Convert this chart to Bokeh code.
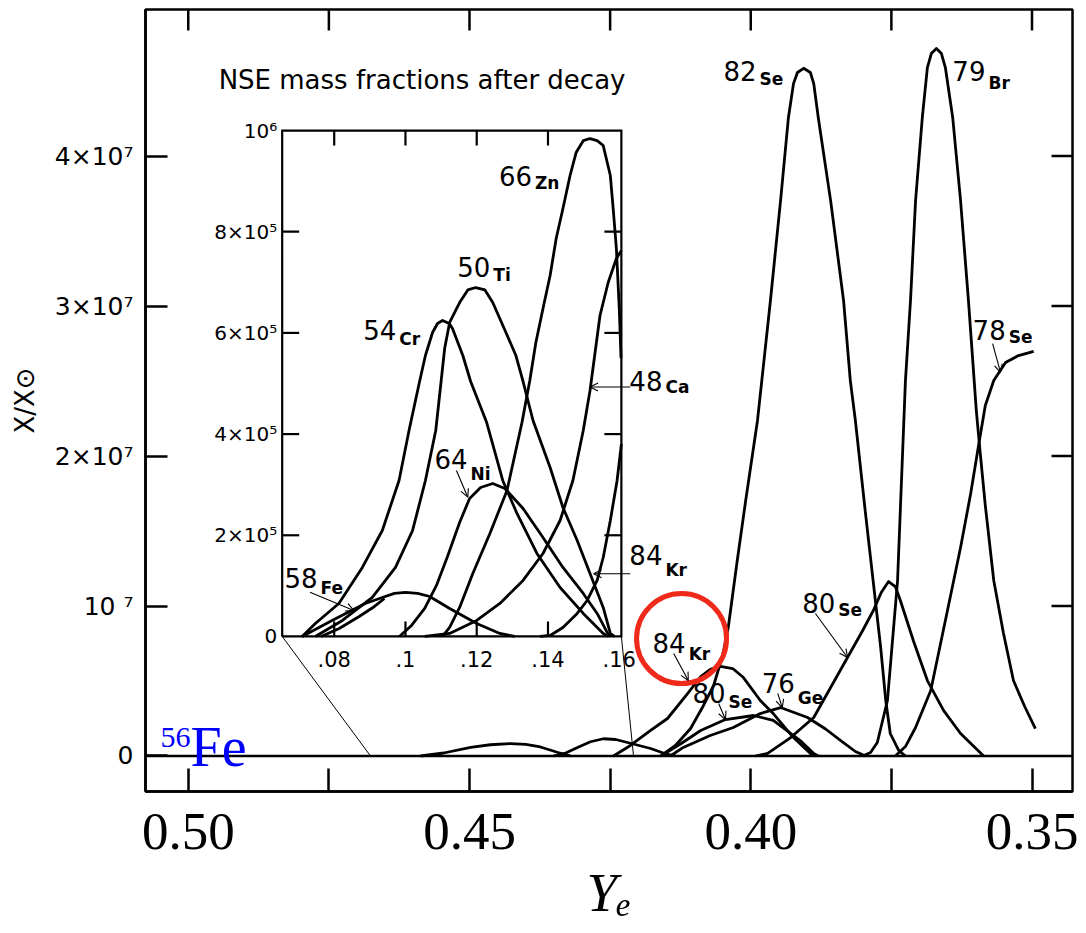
from bokeh.plotting import figure
from bokeh.models import (Range1d, FixedTicker, Span, Arrow, OpenHead,
                          Label, NumeralTickFormatter)
from bokeh.core.properties import value
from bokeh.embed import file_html
from bokeh.resources import INLINE

SANS = "DejaVu Sans"
SERIF = "Liberation Serif"

# ---------------- main panel data: Ye, X/Xsun in units of 1e7 ----------------
bump_a_ye = [0.4587, 0.4546, 0.4498, 0.4463, 0.4427, 0.4400, 0.4374, 0.4344, 0.4320]
bump_a_x = [0.0, 0.020, 0.057, 0.075, 0.083, 0.078, 0.060, 0.025, 0.0]
bump_b_ye = [0.4351, 0.4329, 0.4308, 0.4285, 0.4262, 0.4240, 0.4214, 0.4178, 0.4148, 0.4134]
bump_b_x = [0.0, 0.020, 0.057, 0.095, 0.115, 0.110, 0.085, 0.050, 0.010, 0.0]
kr84_ye = [0.4244, 0.4214, 0.4178, 0.4148, 0.4112, 0.4089, 0.4072, 0.4054, 0.4032, 0.4013,
           0.3983, 0.3960, 0.3924, 0.3894, 0.3885]
kr84_x = [0.0, 0.07, 0.17, 0.25, 0.417, 0.53, 0.577, 0.597, 0.583, 0.523, 0.37, 0.283, 0.123,
          0.017, 0.0]
se80a_ye = [0.4160, 0.4125, 0.4089, 0.4045, 0.3995, 0.3960, 0.3912, 0.3888, 0.3880]
se80a_x = [0.0, 0.08, 0.17, 0.243, 0.27, 0.237, 0.103, 0.017, 0.0]
ge76_ye = [0.4143, 0.4120, 0.4072, 0.4031, 0.3983, 0.3947, 0.3899, 0.3867, 0.3840, 0.3814, 0.3796]
ge76_x = [0.0, 0.057, 0.137, 0.19, 0.283, 0.323, 0.257, 0.18, 0.103, 0.03, 0.0]
se82_ye = [0.4160, 0.4134, 0.4107, 0.4084, 0.4066, 0.4050, 0.4040, 0.4024, 0.4009, 0.3988,
           0.3965, 0.3947, 0.3933, 0.3924, 0.3917, 0.3906, 0.3894, 0.3888, 0.3880, 0.3858,
           0.3835, 0.3823, 0.3814, 0.3796, 0.3769, 0.3760, 0.3752, 0.3737, 0.3725]
se82_x = [0.0, 0.07, 0.183, 0.337, 0.47, 0.67, 0.857, 1.303, 1.703, 2.237, 3.037, 3.703, 4.257,
          4.483, 4.557, 4.585, 4.557, 4.483, 4.257, 3.703, 3.037, 2.503, 2.237, 1.617, 0.723,
          0.37, 0.15, 0.037, 0.0]
se80b_ye = [0.3992, 0.3970, 0.3929, 0.3888, 0.3858, 0.3828, 0.3801, 0.3782, 0.3768, 0.3755,
            0.3743, 0.3734, 0.3711, 0.3686, 0.3657, 0.3627, 0.3586]
se80b_x = [0.0, 0.017, 0.123, 0.257, 0.457, 0.657, 0.837, 0.97, 1.09, 1.163, 1.13, 1.037, 0.77,
           0.503, 0.303, 0.15, 0.0]
br79_ye = [0.3801, 0.3787, 0.3775, 0.3757, 0.3739, 0.3725, 0.3716, 0.3707, 0.3695, 0.3686,
           0.3679, 0.3670, 0.3661, 0.3654, 0.3641, 0.3627, 0.3613, 0.3599, 0.3592, 0.3583,
           0.3568, 0.3551, 0.3533, 0.3513, 0.3494]
br79_x = [0.0, 0.023, 0.09, 0.37, 1.17, 2.503, 3.037, 3.703, 4.257, 4.59, 4.683, 4.717, 4.683,
          4.59, 4.257, 3.703, 3.037, 2.303, 2.017, 1.67, 1.17, 0.823, 0.503, 0.33, 0.183]
se78_ye = [0.3743, 0.3725, 0.3707, 0.3680, 0.3654, 0.3627, 0.3609, 0.3595, 0.3583, 0.3568,
           0.3547, 0.3524, 0.3497]
se78_x = [0.0, 0.063, 0.19, 0.437, 0.903, 1.39, 1.75, 2.07, 2.337, 2.503, 2.623, 2.67, 2.697]

main_curves = [(bump_a_ye, bump_a_x), (bump_b_ye, bump_b_x), (kr84_ye, kr84_x),
               (se80a_ye, se80a_x), (ge76_ye, ge76_x), (se82_ye, se82_x),
               (se80b_ye, se80b_x), (br79_ye, br79_x), (se78_ye, se78_x)]

# ---------------- inset data: eta = 1 - 2Ye, X/Xsun in units of 1e5 ----------------
cr54_eta = [0.0710, 0.0747, 0.0813, 0.0879, 0.0935, 0.0982, 0.1010, 0.1039, 0.1056, 0.1076,
            0.1090, 0.1104, 0.1123, 0.1132, 0.1161, 0.1183, 0.1228, 0.1273, 0.1313, 0.1369,
            0.1434, 0.1499, 0.1555, 0.1569]
cr54_v = [0.0, 0.257, 0.652, 1.364, 2.095, 3.083, 4.071, 5.02, 5.553, 6.008, 6.186, 6.245,
          6.186, 6.087, 5.553, 5.04, 4.229, 3.083, 2.431, 1.64, 0.968, 0.455, 0.059, 0.0]
ti50_eta = [0.0747, 0.0823, 0.0907, 0.0972, 0.1020, 0.1056, 0.1085, 0.1100, 0.1110, 0.1124,
            0.1152, 0.1175, 0.1197, 0.1223, 0.1245, 0.1282, 0.1310, 0.1330, 0.1358, 0.1406,
            0.1442, 0.1482, 0.1518, 0.1555, 0.1575, 0.1586]
ti50_v = [0.0, 0.316, 0.771, 1.364, 2.095, 3.083, 4.071, 5.04, 5.692, 6.206, 6.601, 6.85,
          6.897, 6.85, 6.601, 6.008, 5.553, 5.04, 4.269, 3.34, 2.549, 1.897, 1.245, 0.573,
          0.059, 0.0]
zn66_eta = [0.1104, 0.1124, 0.1152, 0.1189, 0.1237, 0.1285, 0.1327, 0.1349, 0.1366, 0.1386,
            0.1406, 0.1423, 0.1442, 0.1462, 0.1479, 0.1499, 0.1518, 0.1538, 0.1555, 0.1575,
            0.1583, 0.1592, 0.1600, 0.1605]
zn66_v = [0.0, 0.178, 0.573, 1.245, 2.036, 2.885, 4.229, 5.059, 5.81, 6.482, 7.134, 7.866,
          8.458, 9.111, 9.565, 9.8, 9.842, 9.8, 9.704, 9.111, 8.458, 7.668, 6.5, 5.5]
ca48_eta = [0.1054, 0.1124, 0.1200, 0.1265, 0.1330, 0.1386, 0.1434, 0.1470, 0.1499, 0.1518,
            0.1546, 0.1569, 0.1592, 0.1606]
ca48_v = [0.0, 0.059, 0.316, 0.652, 1.107, 1.64, 2.292, 3.083, 4.071, 4.862, 6.344, 6.996,
          7.47, 7.628]
kr84i_eta = [0.1378, 0.1406, 0.1442, 0.1482, 0.1510, 0.1538, 0.1555, 0.1575, 0.1594, 0.1606]
kr84i_v = [0.0, 0.02, 0.178, 0.455, 0.711, 1.107, 1.561, 2.292, 3.083, 3.8]
ni64_eta = [0.0983, 0.1017, 0.1054, 0.1087, 0.1118, 0.1152, 0.1180, 0.1211, 0.1245, 0.1279,
            0.1330, 0.1386, 0.1442, 0.1499, 0.1538, 0.1566, 0.1577]
ni64_v = [0.0, 0.217, 0.553, 1.008, 1.581, 2.253, 2.727, 2.945, 3.024, 2.925, 2.53, 1.957,
          1.364, 0.85, 0.455, 0.079, 0.0]
fe58_eta = [0.0710, 0.0794, 0.0887, 0.0935, 0.0969, 0.1000, 0.1034, 0.1068, 0.1124, 0.1200,
            0.1265, 0.1307]
fe58_v = [0.0, 0.316, 0.652, 0.771, 0.85, 0.87, 0.85, 0.79, 0.553, 0.257, 0.059, 0.0]
loop_eta = [0.0763, 0.0814, 0.0870, 0.0913, 0.0941]
loop_v = [0.0, 0.158, 0.395, 0.593, 0.75]

inset_curves = [(cr54_eta, cr54_v), (ti50_eta, ti50_v), (zn66_eta, zn66_v), (ca48_eta, ca48_v),
                (kr84i_eta, kr84i_v), (ni64_eta, ni64_v), (fe58_eta, fe58_v), (loop_eta, loop_v)]

# ---------------- ticks and labels ----------------
ye_ticks = [0.50, 0.45, 0.40, 0.35]
ye_minor = [0.475, 0.425, 0.375]
x_ticks = [0, 1, 2, 3, 4]
x_tick_text = {0: "0", 1: "10 \u2077", 2: "2\u00d710\u2077", 3: "3\u00d710\u2077", 4: "4\u00d710\u2077"}
eta_ticks = [0.08, 0.10, 0.12, 0.14, 0.16]
eta_tick_text = [".08", ".1", ".12", ".14", ".16"]
v_ticks = [0, 2, 4, 6, 8, 10]
v_tick_text = ["0", "2\u00d710\u2075", "4\u00d710\u2075", "6\u00d710\u2075", "8\u00d710\u2075", "10\u2076"]

main_lab_num = ["82", "79", "78", "80", "76", "84", "80"]
main_lab_sym = ["Se", "Br", "Se", "Se", "Ge", "Kr", "Se"]
main_lab_ye = [0.3988, 0.3581, 0.3545, 0.3848, 0.3920, 0.4114, 0.4043]
main_lab_y = [4.57, 4.57, 2.837, 1.02, 0.49, 0.753, 0.423]
main_lab_drop = [8, 12, 7, 7, 15, 11, 9]

ins_lab_num = ["66", "50", "54", "64", "58", "48", "84"]
ins_lab_sym = ["Zn", "Ti", "Cr", "Ni", "Fe", "Ca", "Kr"]
ins_lab_eta = [0.1358, 0.1241, 0.0977, 0.1177, 0.0756, 0.1724, 0.1724]
ins_lab_v = [9.111, 7.312, 6.067, 3.508, 1.156, 5.059, 1.601]
ins_lab_drop = [7, 8, 9, 15, 10, 6, 15]

main_arrows = [(0.4137, 0.683, 0.4111, 0.503), (0.4057, 0.35, 0.4045, 0.243),
               (0.3952, 0.417, 0.3944, 0.323), (0.3885, 0.95, 0.3828, 0.657),
               (0.3570, 2.75, 0.3556, 2.557)]
inset_arrows = [(0.1143, 3.28, 0.1175, 2.753), (0.0732, 0.875, 0.0855, 0.514),
                (0.1631, 4.93, 0.1518, 4.93), (0.1631, 1.239, 0.1528, 1.239)]

# ---------------- layout constants ----------------
XR = (0.5076, 0.3428)
YR = (-0.2367, 4.977)
W, H = 1086, 933
BL, BR, BT, BB = 145, 14, 9, 142
INSET_YE = (0.4833, 0.4230)   # inset box edges in main Ye
INSET_Y = (0.797, 4.17)       # inset box edges in main y
ETA_LIM = (0.0654, 0.1606)
V_LIM = (0.0, 10.0)
CONNECT_YE = (0.4676, 0.42084)


def lin(a0, a1, b0, b1, a):
    return b0 + (a - a0) * (b1 - b0) / (a1 - a0)


p = figure(width=W, height=H, output_backend="svg", toolbar_location=None,
           x_range=Range1d(*XR), y_range=Range1d(*YR),
           min_border_left=BL, min_border_right=BR, min_border_top=BT, min_border_bottom=BB,
           background_fill_color="white", border_fill_color="white")
p.grid.visible = False
p.outline_line_color = "black"
p.outline_line_width = 2.5

eta_r = (lin(INSET_YE[0], INSET_YE[1], ETA_LIM[0], ETA_LIM[1], XR[0]),
         lin(INSET_YE[0], INSET_YE[1], ETA_LIM[0], ETA_LIM[1], XR[1]))
v_r = (lin(INSET_Y[0], INSET_Y[1], V_LIM[0], V_LIM[1], YR[0]),
       lin(INSET_Y[0], INSET_Y[1], V_LIM[0], V_LIM[1], YR[1]))
p.extra_x_ranges = {"eta": Range1d(*eta_r)}
p.extra_y_ranges = {"iv": Range1d(*v_r)}
fw, fh = W - BL - BR, H - BT - BB
eta_px = (eta_r[1] - eta_r[0]) / fw
v_px = (v_r[1] - v_r[0]) / fh
ye_px = (XR[0] - XR[1]) / fw
y_px = (YR[1] - YR[0]) / fh

# ---- axes ----
xa = p.xaxis[0]
xa.ticker = FixedTicker(ticks=ye_ticks, minor_ticks=ye_minor)
xa.formatter = NumeralTickFormatter(format="0.00")
xa.major_tick_in = 23
xa.major_tick_out = 0
xa.minor_tick_in = 23
xa.minor_tick_out = 0
xa.major_tick_line_width = 2.5
xa.minor_tick_line_width = 2.5
xa.axis_line_width = 2.5
xa.major_label_text_font = SERIF
xa.major_label_text_font_size = "53px"
xa.major_label_text_color = "black"
xa.major_label_standoff = 22
xa.axis_label = "Y\u2091"
xa.axis_label_text_font = SERIF
xa.axis_label_text_font_style = "italic"
xa.axis_label_text_font_size = "55px"
xa.axis_label_text_color = "black"
xa.axis_label_standoff = 10

ya = p.yaxis[0]
ya.ticker = FixedTicker(ticks=x_ticks)
ya.major_label_overrides = x_tick_text
ya.major_tick_in = 22
ya.major_tick_out = 0
ya.minor_tick_in = 0
ya.minor_tick_out = 0
ya.major_tick_line_width = 2.5
ya.axis_line_width = 2.5
ya.major_label_text_font = SANS
ya.major_label_text_font_size = "25px"
ya.major_label_text_color = "black"
ya.major_label_standoff = 12
ya.axis_label = "X/X\u2299"
ya.axis_label_text_font = SANS
ya.axis_label_text_font_style = "normal"
ya.axis_label_text_font_size = "26px"
ya.axis_label_text_color = "black"
ya.axis_label_standoff = 12

# ticks on the top and right frame edges
top_t = ye_ticks + ye_minor
p.segment(x0=top_t, y0=[YR[1]] * len(top_t), x1=top_t, y1=[YR[1] - 21 * y_px] * len(top_t),
          line_color="black", line_width=2.5)
right_t = [1, 2, 3, 4]
p.segment(x0=[XR[1]] * len(right_t), y0=right_t, x1=[XR[1] + 21 * ye_px] * len(right_t),
          y1=right_t, line_color="black", line_width=2.5)

p.add_layout(Span(location=0, dimension="width", line_color="black", line_width=2.5))

# ---- main curves ----
for xs, ys in main_curves:
    p.line(xs, ys, line_color="black", line_width=2.8, line_join="round")

# connector lines from the inset to the axis
p.line([INSET_YE[0], CONNECT_YE[0]], [INSET_Y[0], 0], line_color="black", line_width=1)
p.line([INSET_YE[1], CONNECT_YE[1]], [INSET_Y[0], 0], line_color="black", line_width=1)

# ---- inset frame, ticks, labels ----
kw = dict(x_range_name="eta", y_range_name="iv")
p.line([ETA_LIM[0], ETA_LIM[1], ETA_LIM[1], ETA_LIM[0], ETA_LIM[0]],
       [V_LIM[0], V_LIM[0], V_LIM[1], V_LIM[1], V_LIM[0]],
       line_color="black", line_width=2.2, line_join="miter", **kw)
inner_v = [t for t in v_ticks if V_LIM[0] < t < V_LIM[1]]
inner_e = [t for t in eta_ticks if ETA_LIM[0] < t < ETA_LIM[1] - 0.002]
p.segment(x0=[ETA_LIM[0]] * len(inner_v), y0=inner_v,
          x1=[ETA_LIM[0] + 17 * eta_px] * len(inner_v), y1=inner_v,
          line_color="black", line_width=2.2, **kw)
p.segment(x0=[ETA_LIM[1]] * len(inner_v), y0=inner_v,
          x1=[ETA_LIM[1] - 17 * eta_px] * len(inner_v), y1=inner_v,
          line_color="black", line_width=2.2, **kw)
p.segment(x0=inner_e, y0=[V_LIM[1]] * len(inner_e),
          x1=inner_e, y1=[V_LIM[1] - 15 * v_px] * len(inner_e),
          line_color="black", line_width=2.2, **kw)
p.segment(x0=inner_e, y0=[V_LIM[0]] * len(inner_e),
          x1=inner_e, y1=[V_LIM[0] + 15 * v_px] * len(inner_e),
          line_color="black", line_width=2.2, **kw)

p.text(x=[ETA_LIM[0]] * len(v_ticks), y=v_ticks, text=v_tick_text, x_offset=-5,
       text_align="right", text_baseline="middle", text_font=value(SANS),
       text_font_size="20px", text_color="black", **kw)
p.text(x=eta_ticks, y=[V_LIM[0]] * len(eta_ticks), text=eta_tick_text, y_offset=15,
       text_align="center", text_baseline="top", text_font=value(SANS),
       text_font_size="21px", text_color="black", **kw)

for xs, ys in inset_curves:
    p.line(xs, ys, line_color="black", line_width=2.8, line_join="round", **kw)

# ---- isotope labels ----
p.text(x=main_lab_ye, y=main_lab_y, text=main_lab_num, x_offset=-1, text_align="right",
       text_baseline="middle", text_font=value(SANS), text_font_size="26px", text_color="black")
p.text(x=main_lab_ye, y=main_lab_y, text=main_lab_sym, x_offset=2, y_offset=main_lab_drop,
       text_align="left", text_baseline="middle", text_font=value(SANS),
       text_font_size="17px", text_font_style="bold", text_color="black")
p.text(x=ins_lab_eta, y=ins_lab_v, text=ins_lab_num, x_offset=-1, text_align="right",
       text_baseline="middle", text_font=value(SANS), text_font_size="26px",
       text_color="black", **kw)
p.text(x=ins_lab_eta, y=ins_lab_v, text=ins_lab_sym, x_offset=2, y_offset=ins_lab_drop,
       text_align="left", text_baseline="middle", text_font=value(SANS),
       text_font_size="17px", text_font_style="bold", text_color="black", **kw)

for x0, y0, x1, y1 in main_arrows:
    p.add_layout(Arrow(end=OpenHead(size=8, line_width=1.1), x_start=x0, y_start=y0,
                       x_end=x1, y_end=y1, line_width=1.1))
for x0, y0, x1, y1 in inset_arrows:
    p.add_layout(Arrow(end=OpenHead(size=8, line_width=1.1), x_start=x0, y_start=y0,
                       x_end=x1, y_end=y1, line_width=1.1, **kw))

# inset title
p.add_layout(Label(x=0.4946, y=4.51, text="NSE mass fractions after decay", text_font=SANS,
                   text_font_size="26px", text_color="black", text_align="left",
                   text_baseline="middle"))

# blue 56Fe marker text
p.add_layout(Label(x=0.4996, y=0.063, text="Fe", text_font=SERIF, text_font_size="56px",
                   text_color="blue", text_align="left", text_baseline="middle"))
p.add_layout(Label(x=0.4996, y=0.12, text="56", text_font=SERIF, text_font_size="30px",
                   text_color="blue", text_align="right", text_baseline="middle"))

# red highlight circle
p.scatter(x=[0.4123], y=[0.783], size=90, marker="circle", fill_color=None,
          line_color="#f02a1a", line_width=5)

open("out.html", "w").write(file_html(p, INLINE))
